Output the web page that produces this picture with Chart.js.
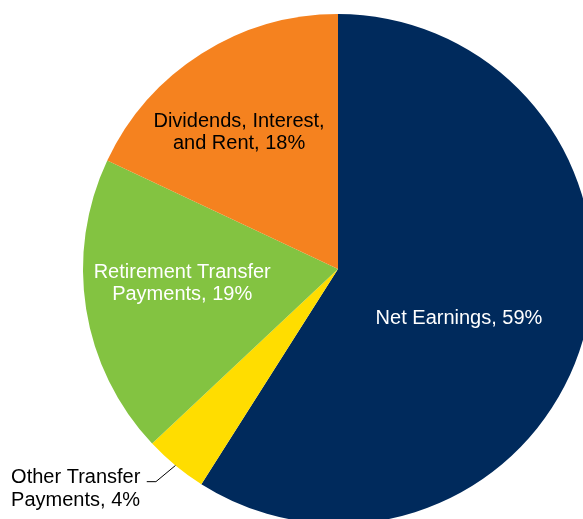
<!DOCTYPE html>
<html>
<head>
<meta charset="utf-8">
<script src="https://cdn.jsdelivr.net/npm/chart.js@4/dist/chart.umd.min.js"></script>
<style>
  html, body { margin: 0; padding: 0; background: #ffffff; overflow: hidden; width: 583px; height: 519px; }
  #wrap { position: absolute; left: 0; top: 0; width: 600px; height: 530px; }
</style>
</head>
<body>
<div id="wrap"><canvas id="c" width="600" height="530"></canvas></div>
<script>
// ---- data ----
const categories = ["Net Earnings", "Other Transfer Payments", "Retirement Transfer Payments", "Dividends, Interest, and Rent"];
const shares = [59, 4, 19, 18];
const sliceColors = ["#002A5C", "#FFDD00", "#83C341", "#F5821F"];
const labelLines = [
  ["Net Earnings, 59%"],
  ["Other Transfer", "Payments, 4%"],
  ["Retirement Transfer", "Payments, 19%"],
  ["Dividends, Interest,", "and Rent, 18%"]
];

// label layout (fractions of radius from pie centre; baseline of first line)
const labelLayout = [
  { dx: 0.4745, dy: 0.2169, align: "center", color: "#ffffff" },
  { dx: -1.282, dy: 0.840, align: "left", color: "#000000", leader: [[-0.714, 0.834], [-0.750, 0.834]] },
  { dx: -0.611, dy: 0.034, align: "center", color: "#ffffff" },
  { dx: -0.388, dy: -0.558, align: "center", color: "#000000" }
];

const labelPlugin = {
  id: "sliceLabels",
  afterDatasetsDraw(chart) {
    const ctx = chart.ctx;
    const meta = chart.getDatasetMeta(0);
    ctx.save();
    ctx.font = "20px 'Liberation Sans', Arial, sans-serif";
    ctx.textBaseline = "alphabetic";
    meta.data.forEach((arc, i) => {
      const p = arc.getProps(["x", "y", "startAngle", "endAngle", "outerRadius"], true);
      const R = p.outerRadius;
      const L = labelLayout[i];
      if (L.leader) {
        const mid = (p.startAngle + p.endAngle) / 2;
        ctx.beginPath();
        ctx.strokeStyle = "#000000";
        ctx.lineWidth = 1;
        ctx.moveTo(p.x + Math.cos(mid) * R, p.y + Math.sin(mid) * R);
        L.leader.forEach(pt => ctx.lineTo(p.x + pt[0] * R, p.y + pt[1] * R));
        ctx.stroke();
      }
      ctx.fillStyle = L.color;
      ctx.textAlign = L.align;
      const x = p.x + L.dx * R;
      let y = p.y + L.dy * R;
      labelLines[i].forEach(line => {
        ctx.fillText(line, x, y);
        y += 22.5;
      });
    });
    ctx.restore();
  }
};

new Chart(document.getElementById("c"), {
  type: "pie",
  data: {
    labels: categories,
    datasets: [{
      data: shares,
      backgroundColor: sliceColors,
      borderWidth: 0,
      hoverOffset: 0
    }]
  },
  options: {
    responsive: false,
    animation: false,
    devicePixelRatio: 1,
    layout: { padding: { left: 83, top: 14, right: 7, bottom: 6 } },
    plugins: {
      legend: { display: false },
      tooltip: { enabled: false }
    }
  },
  plugins: [labelPlugin]
});
</script>
</body>
</html>
